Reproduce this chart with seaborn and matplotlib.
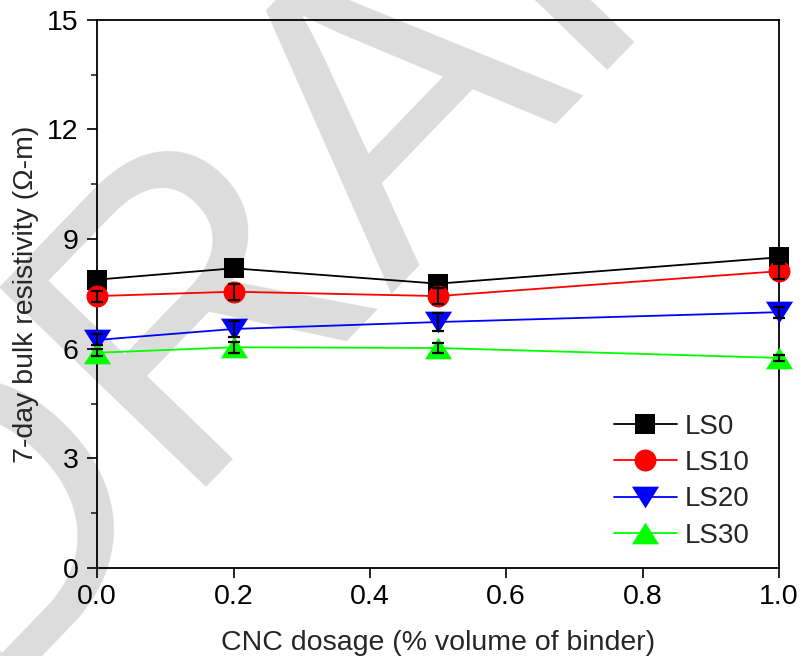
import numpy as np
import pandas as pd
import matplotlib
matplotlib.use("Agg")
import matplotlib.pyplot as plt
import seaborn as sns

# data
dosage = [0.0, 0.2, 0.5, 1.0]
ls0 = [7.89, 8.20, 7.78, 8.50]
ls10 = [7.44, 7.56, 7.44, 8.12]
ls20 = [6.24, 6.54, 6.73, 7.00]
ls30 = [5.89, 6.04, 6.02, 5.75]
ls0_err = [0.12, 0.10, 0.12, 0.12]
ls10_err = [0.15, 0.22, 0.22, 0.20]
ls20_err = [0.15, 0.22, 0.25, 0.15]
ls30_err = [0.10, 0.15, 0.15, 0.08]
series = ["LS0", "LS10", "LS20", "LS30"]

df = pd.DataFrame({
    "dosage": dosage * 4,
    "value": ls0 + ls10 + ls20 + ls30,
    "err": ls0_err + ls10_err + ls20_err + ls30_err,
    "mix": [s for s in series for _ in dosage],
})

sns.set_style("ticks")
plt.rcParams["font.family"] = ["Liberation Sans", "DejaVu Sans"]

fig = plt.figure(figsize=(8.03, 6.56), dpi=100)
ax = fig.add_axes([0.121, 0.134, 0.849, 0.836])
ax.set_facecolor("none")

# DRAFT watermark behind the plot
fig.text(-0.045, -0.07, "DRAFT", fontsize=300, color="#dcdcdc", rotation=46,
         rotation_mode="anchor", ha="left", va="baseline", zorder=-10,
         family=["Liberation Sans Narrow", "Liberation Sans"])

colors = {"LS0": "black", "LS10": "#ff0000", "LS20": "#0000ff", "LS30": "#00ff00"}
tri_down = [(-1, 0.8), (1, 0.8), (0, -0.8), (-1, 0.8)]
tri_up = [(-1, -0.8), (1, -0.8), (0, 0.8), (-1, -0.8)]
marks = {"LS0": "s", "LS10": "o", "LS20": tri_down, "LS30": tri_up}
msize = {"LS0": 13.7, "LS10": 15.8, "LS20": 19.5, "LS30": 19.5}

for s in series:
    sub = df[df["mix"] == s]
    sns.lineplot(x=sub["dosage"], y=sub["value"], color=colors[s], marker=marks[s],
                 markersize=msize[s], markeredgewidth=0, linewidth=1.3,
                 label=s, ax=ax, zorder=3, clip_on=False)

for s in series:
    sub = df[df["mix"] == s]
    eb = ax.errorbar(sub["dosage"], sub["value"], yerr=sub["err"], fmt="none",
                     ecolor="black", elinewidth=1.5, capsize=4, capthick=1.6, zorder=4)
    for art in eb.lines[1] + eb.lines[2]:
        art.set_clip_on(False)

ax.set_xlim(0, 1.0)
ax.set_ylim(0, 15)
ax.set_xticks([0.0, 0.2, 0.4, 0.6, 0.8, 1.0])
ax.set_xticklabels(["0.0", "0.2", "0.4", "0.6", "0.8", "1.0"])
ax.set_yticks([0, 3, 6, 9, 12, 15])
ax.set_yticks(np.arange(1.5, 15, 3), minor=True)
ax.tick_params(axis="both", which="major", direction="out", length=7.2, width=1.2,
               labelsize=20.5, colors="black")
ax.tick_params(axis="x", which="major", pad=4.5)
ax.tick_params(axis="y", which="major", pad=6)
ax.tick_params(axis="y", which="minor", direction="out", length=4.5, width=1.2)
for sp in ax.spines.values():
    sp.set_linewidth(1.3)
    sp.set_color("black")
    sp.set_visible(True)

ax.set_xlabel("CNC dosage (% volume of binder)", fontsize=20.5, labelpad=14)
ax.set_ylabel("7-day bulk resistivity (Ω-m)", fontsize=20.5, labelpad=6)

handles, labels = ax.get_legend_handles_labels()
ax.legend(handles, labels, loc="lower right", bbox_to_anchor=(0.985, 0.0),
          frameon=False, fontsize=20, handlelength=2.3, handletextpad=0.25,
          labelspacing=0.37, borderaxespad=0.3)

fig.savefig("out.png", dpi=100)
